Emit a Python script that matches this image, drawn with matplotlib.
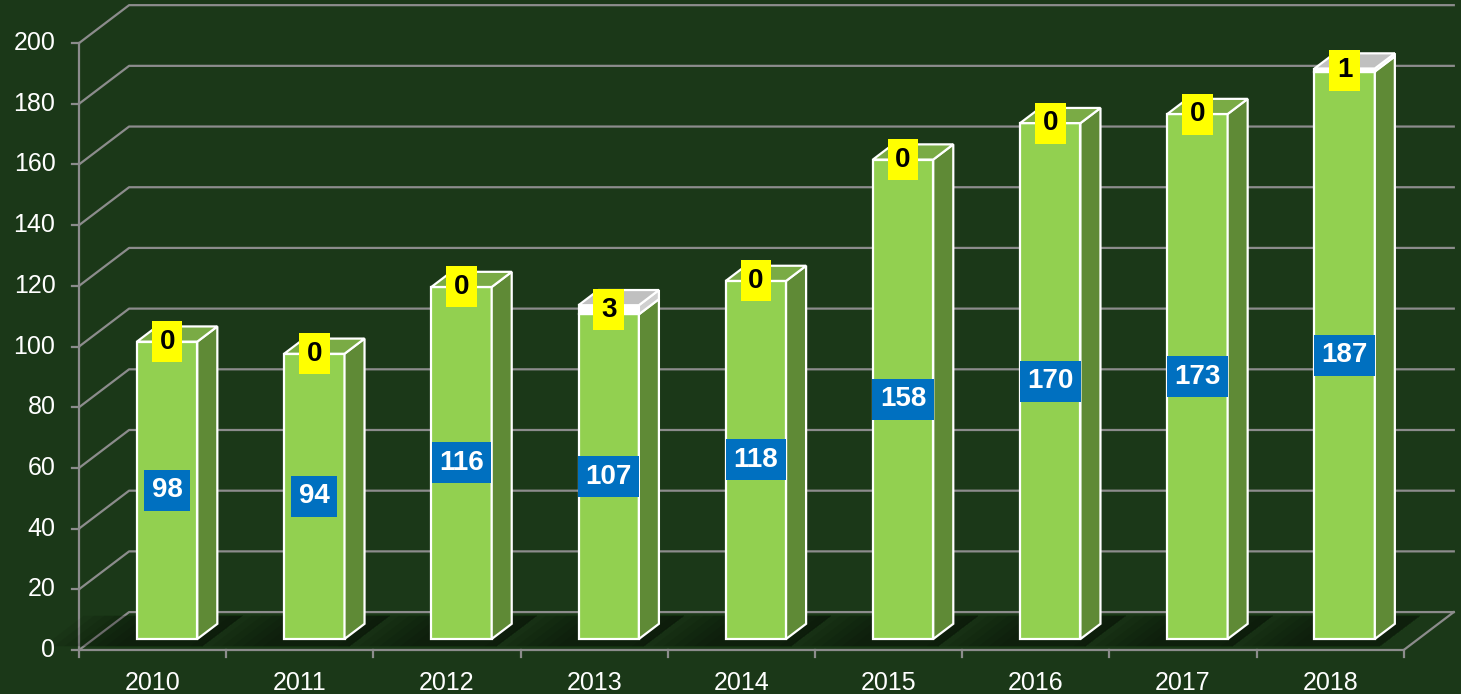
import numpy as np
import matplotlib.pyplot as plt
from matplotlib.patches import Polygon

plt.rcParams['font.family'] = ['Liberation Sans', 'DejaVu Sans']

years = ['2010', '2011', '2012', '2013', '2014', '2015', '2016', '2017', '2018']
main_vals = [98, 94, 116, 107, 118, 158, 170, 173, 187]
top_vals = [0, 0, 0, 3, 0, 0, 0, 0, 1]
y_ticks = list(range(0, 201, 20))

bg = '#1b3818'
grid_c = '#8c8c8c'
green = ('#92d050', '#5f8a36', '#7aab45')   # front, side, top
white = ('#ffffff', '#d0d0d0', '#c0c0c0')

# depth of the 3d box in data units
DX, DY = 0.34, 12.5
bar_w = 0.41
f0, f1 = 0.29, 0.69      # bar front / back as fraction of the depth
n = len(years)

fig = plt.figure(figsize=(14.61, 6.94), dpi=100, facecolor=bg)
ax = fig.add_axes([0, 0, 1, 1])
ax.set_facecolor(bg)
ax.set_xlim(-1.037, 8.889)
ax.set_ylim(-14.5, 214.2)
ax.axis('off')

x0, x1 = -0.5, n - 0.5

# walls / grid
for v in y_ticks:
    ax.plot([x0, x0 + DX, x1 + DX], [v, v + DY, v + DY], color=grid_c, lw=1.6, zorder=1)
    ax.plot([x0 - 0.05, x0], [v, v], color=grid_c, lw=1.6, zorder=1)
    ax.text(x0 - 0.16, v, str(v), ha='right', va='center', fontsize=18, color='white')
ax.plot([x0, x1, x1 + DX], [0, 0, DY], color=grid_c, lw=1.6, zorder=1)
ax.plot([x0, x0], [0, y_ticks[-1]], color=grid_c, lw=1.6, zorder=1)
for i in range(n + 1):
    ax.plot([x0 + i, x0 + i], [0, -2.4], color=grid_c, lw=1.6, zorder=1)
for i, yr in enumerate(years):
    ax.text(i, -10.9, yr, ha='center', va='center', fontsize=18, color='white')


def face(pts, fc, z):
    ax.add_patch(Polygon(pts, closed=True, fc=fc, ec='white', lw=1.6, zorder=z))


for i in range(n):
    xa = i - bar_w / 2 + f0 * DX
    xb = xa + bar_w
    b = f0 * DY
    ddx, ddy = (f1 - f0) * DX, (f1 - f0) * DY

    # floor shadow
    for k in range(8):
        w = 0.08 + 0.07 * k
        sx, sy = 0.1 * DX, 0.1 * DY
        ex, ey = 0.9 * DX, 0.9 * DY
        pts = [(i - bar_w / 2 - w + sx, sy), (xb + sx, sy), (xb + ex, ey), (i - bar_w / 2 - w + ex, ey)]
        ax.add_patch(Polygon(pts, closed=True, fc='black', ec='none', alpha=0.06, zorder=2))

    segs = [(0, main_vals[i], green)]
    if top_vals[i] > 0:
        segs.append((main_vals[i], main_vals[i] + top_vals[i], white))
    for j, (lo, hi, cols) in enumerate(segs):
        z = 3 + i * 0.1
        face([(xa, b + lo), (xb, b + lo), (xb, b + hi), (xa, b + hi)], cols[0], z)
        face([(xb, b + lo), (xb + ddx, b + lo + ddy), (xb + ddx, b + hi + ddy), (xb, b + hi)], cols[1], z)
        if j == len(segs) - 1:
            face([(xa, b + hi), (xb, b + hi), (xb + ddx, b + hi + ddy), (xa + ddx, b + hi + ddy)], cols[2], z)

    cx = xa + bar_w / 2
    ax.text(cx, b + main_vals[i] / 2, str(main_vals[i]), ha='center', va='center',
            fontsize=20, fontweight='bold', color='white', zorder=10,
            bbox=dict(boxstyle='square,pad=0.27', fc='#0070c0', ec='none'))
    ax.text(cx, b + main_vals[i] + top_vals[i] / 2, str(top_vals[i]), ha='center', va='center',
            fontsize=20, fontweight='bold', color='black', zorder=10,
            bbox=dict(boxstyle='square,pad=0.27', fc='#ffff00', ec='none'))

fig.savefig('out.png', dpi=100, facecolor=bg)
